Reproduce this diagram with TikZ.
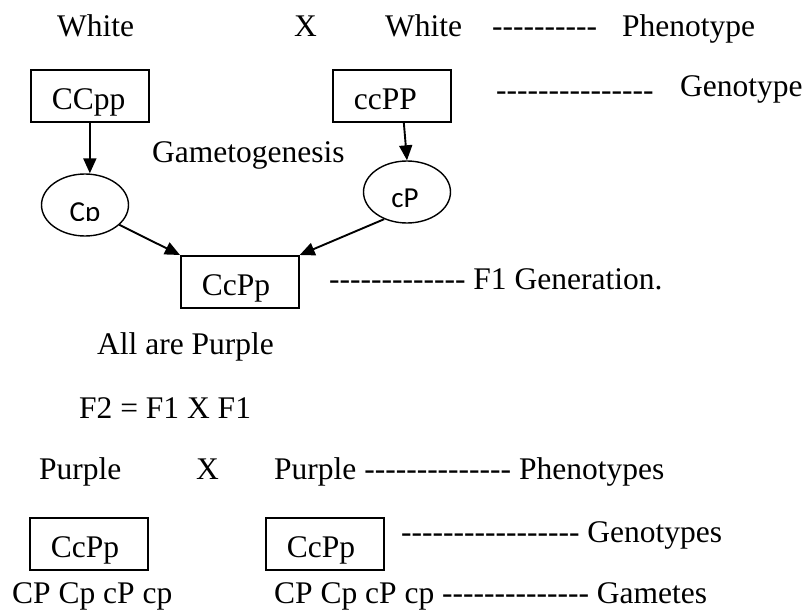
\documentclass[tikz,border=0pt]{standalone}
\usepackage{fontspec}
\setmainfont{Liberation Serif}
\newfontfamily\gamfont{Carlito}
\usetikzlibrary{arrows.meta,shapes.geometric,calc}

% a run of plain hyphens, kept apart so no dash ligature forms
\newcommand\dashrun[1]{\foreach\k in {1,...,#1}{\hbox{-}}}

\tikzset{
  txt/.style={anchor=base west, inner sep=0pt, font=\fontsize{31.5}{36}\selectfont},
  genobox/.style={draw, line width=1.7pt, rectangle, anchor=north west,
    inner xsep=21pt, inner ysep=0pt, text width=76pt, align=left,
    text height=40pt, text depth=12pt, font=\fontsize{31.5}{36}\selectfont},
  gamete/.style={draw, line width=1.4pt, ellipse, minimum width=87pt, minimum height=62pt, inner sep=0pt},
  gamtxt/.style={inner sep=0pt, font=\gamfont\fontsize{29}{32}\selectfont},
  arr/.style={line width=1.9pt, -{Triangle[length=15pt,width=13pt]}}
}

\begin{document}
\begin{tikzpicture}[x=1pt,y=-1pt]
\useasboundingbox (0,0) rectangle (804,613);

% parental cross
\node[txt] (w1) at (57,36) {White};
\node[txt] (x1) at (294,36) {X};
\node[txt] (w2) at (385,36) {White};
\node[txt] (d1) at (492,36) {\dashrun{10}};
\node[txt] (ph1) at (622,36) {Phenotype};

\node[genobox] (b1) at (30,69) {CCpp};
\node[genobox] (b2) at (332,69) {ccPP};
\node[txt] (d2) at (496,100) {\dashrun{15}};
\node[txt] (ge1) at (680,96) {Genotype};

\node[txt] (gg) at (152,162) {Gametogenesis};

% gametes
\node[gamete] (e1) at (85,205) {};
\node[gamete] (e2) at (407,192) {};
\begin{scope}
  \clip (60,195) rectangle (110,220);
  \node[gamtxt, anchor=base] (t1) at (85,221) {Cp};
\end{scope}
\node[gamtxt, anchor=base] (t2) at (405,207) {cP};

% F1
\node[genobox] (b3) at (180,255) {CcPp};
\node[txt] (f1) at (329,289) {\dashrun{13} F1 Generation.};

\draw[arr] (b1.south) -- (b1.south |- e1.north);
\draw[arr] ($(b2.south west)!0.6!(b2.south east)$) -- (e2.north);
\draw[arr] (e1.-30) -- (b3.north west);
\draw[arr] (e2.-130) -- (b3.north east);

\node[txt] (all) at (97,354) {All are Purple};
\node[txt] (f2) at (79,418) {F2 = F1 X F1};

% F2 cross
\node[txt] (p1) at (39,479) {Purple};
\node[txt] (x2) at (196,479) {X};
\node[txt] (p2) at (274,479) {Purple \dashrun{14} Phenotypes};

\node[genobox] (b4) at (29,517) {CcPp};
\node[genobox] (b5) at (265,517) {CcPp};
\node[txt] (ge2) at (401,542) {\dashrun{17} Genotypes};

\node[txt] (gm1) at (12,603) {CP Cp cP cp};
\node[txt] (gm2) at (274,603) {CP Cp cP cp \dashrun{14} Gametes};
\end{tikzpicture}
\end{document}
